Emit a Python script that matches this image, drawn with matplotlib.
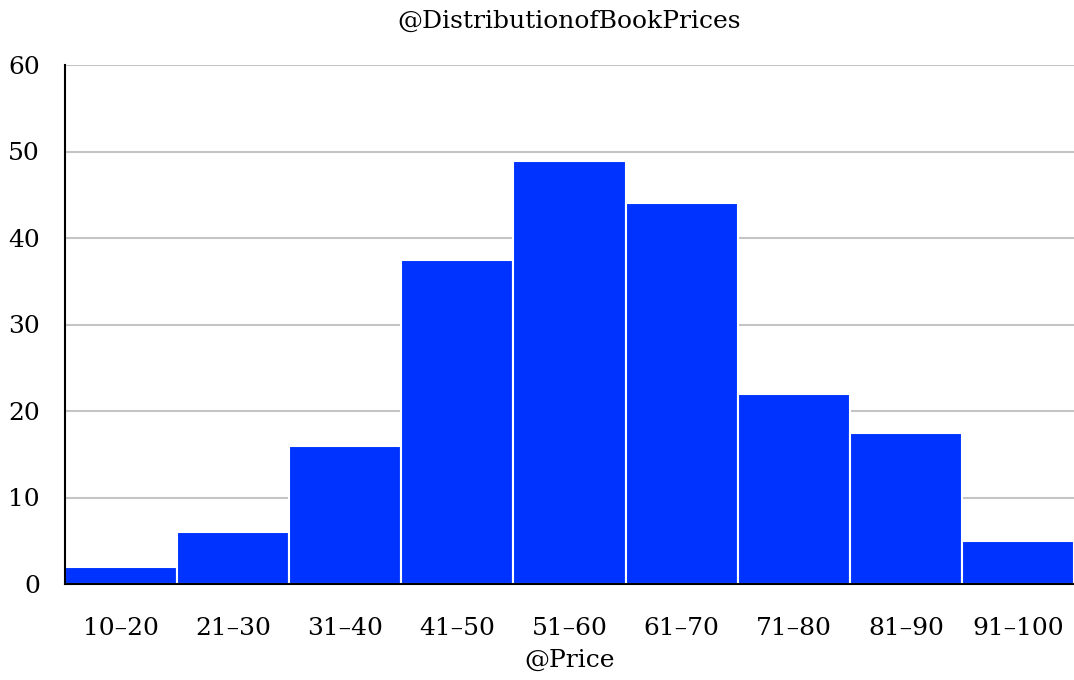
import numpy as np
import matplotlib.pyplot as plt

# Data
price_ranges = ['10–20', '21–30', '31–40', '41–50', '51–60', '61–70', '71–80', '81–90', '91–100']
book_counts = [2, 6, 16, 37.4, 48.9, 44, 22, 17.4, 5]

plt.rcParams['font.family'] = ['DejaVu Serif']

fig = plt.figure(figsize=(10.74, 6.8), dpi=100)
ax = fig.add_axes([65 / 1074, 1 - 584 / 680, (1074 - 65) / 1074, (584 - 65) / 680])

x = np.arange(len(price_ranges))
ax.bar(x, book_counts, width=1.0, color='#0033ff', edgecolor='white', linewidth=1.5, zorder=2)

ax.set_xlim(-0.5, len(price_ranges) - 0.5)
ax.set_ylim(0, 60)
ax.set_yticks(range(0, 61, 10))
ax.set_xticks(x)
ax.set_xticklabels(price_ranges)
ax.tick_params(axis='both', length=0, labelsize=18)
ax.tick_params(axis='y', pad=18)
ax.tick_params(axis='x', pad=24)

ax.yaxis.grid(True, color='#c4c4c4', linewidth=1.5, zorder=0)
ax.set_axisbelow(True)
for side in ['top', 'right']:
    ax.spines[side].set_visible(False)
ax.spines['left'].set_linewidth(1.5)
ax.spines['bottom'].set_linewidth(1.5)

ax.set_title('@DistributionofBookPrices', fontsize=18, pad=27)
ax.set_xlabel('@Price', fontsize=18, labelpad=6)

fig.savefig('out.png', dpi=100)
